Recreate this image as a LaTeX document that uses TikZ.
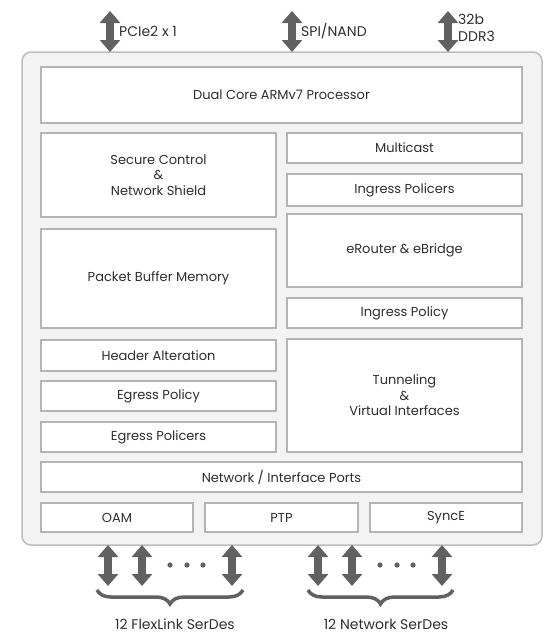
\documentclass[tikz,border=0pt]{standalone}
\usepackage{fontspec}
\setmainfont{Poppins}
\usetikzlibrary{arrows.meta,decorations.pathreplacing}

\definecolor{framegray}{HTML}{BDBDBD}
\definecolor{framefill}{HTML}{F3F3F3}
\definecolor{boxgray}{HTML}{B4B4B4}
\definecolor{txtgray}{HTML}{2E2E2E}
\definecolor{arrowgray}{HTML}{616164}

\begin{document}
\begin{tikzpicture}[x=1pt,y=-1pt,
    blk/.style={draw=boxgray, line width=2pt, fill=white, text=txtgray,
      align=center, inner sep=0pt, font=\fontsize{13}{15.5}\selectfont},
    lbl/.style={text=txtgray, inner sep=0pt, align=left,
      font=\fontsize{14}{16.5}\selectfont},
    port/.style={draw=arrowgray, line width=8pt, <->,
      >={Triangle[width=20pt 0 0,length=12pt 0 0]}},
    brc/.style={draw=arrowgray, line width=3.5pt, decorate,
      decoration={brace,mirror,amplitude=14pt}}]
    \useasboundingbox (0,0) rectangle (555,637);

    % chip outline
    \draw[draw=framegray, fill=framefill, line width=1.5pt, rounded corners=9pt]
      (22,52) rectangle (542,545);

    % top ports
    \coordinate (pcia) at (110,11);  \coordinate (pcib) at (110,52);
    \coordinate (spia) at (292,11);  \coordinate (spib) at (292,52);
    \coordinate (ddra) at (448,11);  \coordinate (ddrb) at (448,52);
    \draw[port] (pcia) -- (pcib);
    \draw[port] (spia) -- (spib);
    \draw[port] (ddra) -- (ddrb);
    \node[lbl, anchor=west] (pcie) at (119,31) {PCIe2 x 1};
    \node[lbl, anchor=west] (spi) at (301,31) {SPI/NAND};
    \node[lbl, anchor=west] (ddr) at (458,28) {32b\\DDR3};

    % blocks
    \node[blk, minimum width=481, minimum height=56] (cpu) at (281.5,95) {Dual Core ARMv7 Processor};
    \node[blk, minimum width=235, minimum height=84] (sec) at (158.5,175) {Secure Control\\\&\\Network Shield};
    \node[blk, minimum width=235, minimum height=99] (pbm) at (158.5,278.5) {Packet Buffer Memory};
    \node[blk, minimum width=235, minimum height=30] (mcast) at (404.5,147.5) {Multicast};
    \node[blk, minimum width=235, minimum height=32] (ipol) at (404.5,190) {Ingress Policers};
    \node[blk, minimum width=235, minimum height=73] (rtr) at (404.5,250.5) {eRouter \& eBridge};
    \node[blk, minimum width=235, minimum height=30] (ipy) at (404.5,313) {Ingress Policy};
    \node[blk, minimum width=235, minimum height=31] (hdr) at (158.5,355.5) {Header Alteration};
    \node[blk, minimum width=235, minimum height=30] (epy) at (158.5,396) {Egress Policy};
    \node[blk, minimum width=235, minimum height=30] (epol) at (158.5,437) {Egress Policers};
    \node[blk, minimum width=235, minimum height=113] (tun) at (404.5,395.5) {Tunneling\\\&\\Virtual Interfaces};
    \node[blk, minimum width=481, minimum height=30] (nip) at (281.5,477) {Network / Interface Ports};
    \node[blk, minimum width=152, minimum height=29] (oam) at (117,517.5) {OAM};
    \node[blk, minimum width=153, minimum height=29] (ptp) at (281.5,517.5) {PTP};
    \node[blk, minimum width=152, minimum height=29] (sync) at (446,517.5) {SyncE};

    % bottom SerDes
    \foreach \x in {108,142,232,318,352,442}
      \draw[port] (\x,545) -- (\x,586);
    \foreach \x in {170,187,203,380,397,413}
      \fill[arrowgray] (\x,565) circle (2.6);
    \coordinate (fla) at (97,590);  \coordinate (flb) at (243,590);
    \coordinate (nwa) at (308,590); \coordinate (nwb) at (453,590);
    \draw[brc] (fla) -- (flb);
    \draw[brc] (nwa) -- (nwb);
    \node[lbl] (flex) at (175,624) {12 FlexLink SerDes};
    \node[lbl] (netw) at (386,624) {12 Network SerDes};
\end{tikzpicture}
\end{document}
